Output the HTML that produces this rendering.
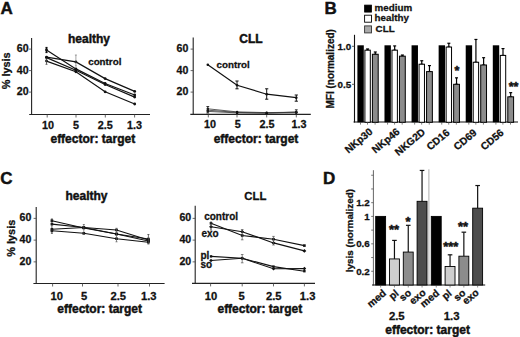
<!DOCTYPE html>
<html><head><meta charset="utf-8"><title>figure</title>
<style>
html,body{margin:0;padding:0;background:#fff;}
body{width:520px;height:337px;overflow:hidden;}
svg{display:block;}
svg text{font-family:"Liberation Sans",sans-serif;fill:#111;stroke:#111;}
</style></head>
<body>
<svg width="520" height="337" viewBox="0 0 520 337">
<rect x="0" y="0" width="520" height="337" fill="#fff"/>
<text x="0.60" y="13.70" font-size="17" text-anchor="start" font-weight="bold" stroke-width="0.45" >A</text>
<text x="324.60" y="13.70" font-size="17" text-anchor="start" font-weight="bold" stroke-width="0.45" >B</text>
<text x="0.30" y="183.70" font-size="17" text-anchor="start" font-weight="bold" stroke-width="0.45" >C</text>
<text x="323.00" y="183.70" font-size="17" text-anchor="start" font-weight="bold" stroke-width="0.45" >D</text>
<line x1="31.60" y1="38.00" x2="31.60" y2="115.00" stroke="#222" stroke-width="1.1"/>
<line x1="29.20" y1="114.50" x2="150.00" y2="114.50" stroke="#222" stroke-width="1.1"/>
<line x1="29.00" y1="49.10" x2="31.60" y2="49.10" stroke="#444" stroke-width="0.8"/>
<text x="28.60" y="52.00" font-size="10.6" text-anchor="end" font-weight="bold" stroke-width="0.28" >60</text>
<line x1="29.00" y1="70.60" x2="31.60" y2="70.60" stroke="#444" stroke-width="0.8"/>
<text x="28.60" y="73.50" font-size="10.6" text-anchor="end" font-weight="bold" stroke-width="0.28" >40</text>
<line x1="29.00" y1="92.10" x2="31.60" y2="92.10" stroke="#444" stroke-width="0.8"/>
<text x="28.60" y="95.00" font-size="10.6" text-anchor="end" font-weight="bold" stroke-width="0.28" >20</text>
<line x1="47.20" y1="114.50" x2="47.20" y2="117.50" stroke="#444" stroke-width="0.8"/>
<text x="47.90" y="128.60" font-size="10.8" text-anchor="middle" font-weight="bold" stroke-width="0.28" >10</text>
<line x1="76.00" y1="114.50" x2="76.00" y2="117.50" stroke="#444" stroke-width="0.8"/>
<text x="76.00" y="128.60" font-size="10.8" text-anchor="middle" font-weight="bold" stroke-width="0.28" >5</text>
<line x1="105.30" y1="114.50" x2="105.30" y2="117.50" stroke="#444" stroke-width="0.8"/>
<text x="105.30" y="128.60" font-size="10.8" text-anchor="middle" font-weight="bold" stroke-width="0.28" >2.5</text>
<line x1="134.60" y1="114.50" x2="134.60" y2="117.50" stroke="#444" stroke-width="0.8"/>
<text x="134.60" y="128.60" font-size="10.8" text-anchor="middle" font-weight="bold" stroke-width="0.28" >1.3</text>
<text x="92.80" y="143.00" font-size="12" text-anchor="middle" font-weight="bold" stroke-width="0.45" >effector: target</text>
<text x="89.00" y="43.20" font-size="12" text-anchor="middle" font-weight="bold" stroke-width="0.45" >healthy</text>
<text x="104.80" y="65.20" font-size="9.8" text-anchor="middle" font-weight="bold" stroke-width="0.28" >control</text>
<text transform="translate(10.40,70.80) rotate(-90)" font-size="10.9" text-anchor="middle" font-weight="bold" stroke-width="0.28">% lysis</text>
<polyline points="46.50,50.00 75.90,68.90 105.10,83.50 134.70,95.00" fill="none" stroke="#111" stroke-width="1.2"/>
<circle cx="46.50" cy="50.00" r="1.4" fill="#111"/>
<circle cx="75.90" cy="68.90" r="1.4" fill="#111"/>
<circle cx="105.10" cy="83.50" r="1.4" fill="#111"/>
<circle cx="134.70" cy="95.00" r="1.4" fill="#111"/>
<polyline points="46.50,57.20 75.90,61.90 105.10,78.60 134.70,91.40" fill="none" stroke="#111" stroke-width="1.2"/>
<circle cx="46.50" cy="57.20" r="1.4" fill="#111"/>
<circle cx="75.90" cy="61.90" r="1.4" fill="#111"/>
<circle cx="105.10" cy="78.60" r="1.4" fill="#111"/>
<circle cx="134.70" cy="91.40" r="1.4" fill="#111"/>
<polyline points="46.50,57.60 75.90,70.30 105.10,84.50 134.70,97.10" fill="none" stroke="#111" stroke-width="1.2"/>
<circle cx="46.50" cy="57.60" r="1.4" fill="#111"/>
<circle cx="75.90" cy="70.30" r="1.4" fill="#111"/>
<circle cx="105.10" cy="84.50" r="1.4" fill="#111"/>
<circle cx="134.70" cy="97.10" r="1.4" fill="#111"/>
<polyline points="46.50,61.10 75.90,71.80 105.10,91.80 134.70,104.00" fill="none" stroke="#111" stroke-width="1.2"/>
<circle cx="46.50" cy="61.10" r="1.4" fill="#111"/>
<circle cx="75.90" cy="71.80" r="1.4" fill="#111"/>
<circle cx="105.10" cy="91.80" r="1.4" fill="#111"/>
<circle cx="134.70" cy="104.00" r="1.4" fill="#111"/>
<line x1="46.50" y1="47.60" x2="46.50" y2="52.40" stroke="#111" stroke-width="1.4"/>
<line x1="45.50" y1="47.60" x2="47.50" y2="47.60" stroke="#111" stroke-width="1.4"/>
<line x1="45.50" y1="52.40" x2="47.50" y2="52.40" stroke="#111" stroke-width="1.4"/>
<line x1="46.50" y1="59.00" x2="46.50" y2="64.30" stroke="#444" stroke-width="0.8"/>
<line x1="45.50" y1="59.00" x2="47.50" y2="59.00" stroke="#444" stroke-width="0.8"/>
<line x1="45.50" y1="64.30" x2="47.50" y2="64.30" stroke="#444" stroke-width="0.8"/>
<line x1="75.90" y1="55.00" x2="75.90" y2="66.00" stroke="#666" stroke-width="0.6"/>
<line x1="74.90" y1="55.00" x2="76.90" y2="55.00" stroke="#666" stroke-width="0.6"/>
<line x1="74.90" y1="66.00" x2="76.90" y2="66.00" stroke="#666" stroke-width="0.6"/>
<line x1="193.20" y1="37.50" x2="193.20" y2="114.90" stroke="#222" stroke-width="1.1"/>
<line x1="190.30" y1="114.40" x2="310.80" y2="114.40" stroke="#222" stroke-width="1.1"/>
<line x1="190.60" y1="49.10" x2="193.20" y2="49.10" stroke="#444" stroke-width="0.8"/>
<text x="188.30" y="52.00" font-size="10.6" text-anchor="end" font-weight="bold" stroke-width="0.28" >60</text>
<line x1="190.60" y1="70.60" x2="193.20" y2="70.60" stroke="#444" stroke-width="0.8"/>
<text x="188.30" y="73.50" font-size="10.6" text-anchor="end" font-weight="bold" stroke-width="0.28" >40</text>
<line x1="190.60" y1="92.10" x2="193.20" y2="92.10" stroke="#444" stroke-width="0.8"/>
<text x="188.30" y="95.00" font-size="10.6" text-anchor="end" font-weight="bold" stroke-width="0.28" >20</text>
<line x1="208.30" y1="114.40" x2="208.30" y2="117.40" stroke="#444" stroke-width="0.8"/>
<text x="209.90" y="128.40" font-size="10.8" text-anchor="middle" font-weight="bold" stroke-width="0.28" >10</text>
<line x1="237.00" y1="114.40" x2="237.00" y2="117.40" stroke="#444" stroke-width="0.8"/>
<text x="237.80" y="128.40" font-size="10.8" text-anchor="middle" font-weight="bold" stroke-width="0.28" >5</text>
<line x1="266.70" y1="114.40" x2="266.70" y2="117.40" stroke="#444" stroke-width="0.8"/>
<text x="267.00" y="128.40" font-size="10.8" text-anchor="middle" font-weight="bold" stroke-width="0.28" >2.5</text>
<line x1="296.30" y1="114.40" x2="296.30" y2="117.40" stroke="#444" stroke-width="0.8"/>
<text x="299.10" y="128.40" font-size="10.8" text-anchor="middle" font-weight="bold" stroke-width="0.28" >1.3</text>
<text x="256.00" y="142.60" font-size="12" text-anchor="middle" font-weight="bold" stroke-width="0.45" >effector: target</text>
<text x="250.90" y="43.40" font-size="12" text-anchor="middle" font-weight="bold" stroke-width="0.45" >CLL</text>
<text x="216.60" y="68.30" font-size="9.8" text-anchor="start" font-weight="bold" stroke-width="0.28" >control</text>
<polyline points="207.80,64.70 237.10,85.30 266.70,94.20 296.30,97.70" fill="none" stroke="#111" stroke-width="1.2"/>
<circle cx="207.80" cy="64.70" r="1.3" fill="#111"/>
<circle cx="237.10" cy="85.30" r="1.3" fill="#111"/>
<circle cx="266.70" cy="94.20" r="1.3" fill="#111"/>
<circle cx="296.30" cy="97.70" r="1.3" fill="#111"/>
<line x1="237.00" y1="81.00" x2="237.00" y2="88.80" stroke="#111" stroke-width="1.0"/>
<line x1="235.40" y1="81.00" x2="238.60" y2="81.00" stroke="#111" stroke-width="1.0"/>
<line x1="235.40" y1="88.80" x2="238.60" y2="88.80" stroke="#111" stroke-width="1.0"/>
<line x1="266.70" y1="88.80" x2="266.70" y2="99.20" stroke="#111" stroke-width="1.0"/>
<line x1="265.10" y1="88.80" x2="268.30" y2="88.80" stroke="#111" stroke-width="1.0"/>
<line x1="265.10" y1="99.20" x2="268.30" y2="99.20" stroke="#111" stroke-width="1.0"/>
<line x1="296.30" y1="95.00" x2="296.30" y2="101.20" stroke="#111" stroke-width="1.0"/>
<line x1="294.70" y1="95.00" x2="297.90" y2="95.00" stroke="#111" stroke-width="1.0"/>
<line x1="294.70" y1="101.20" x2="297.90" y2="101.20" stroke="#111" stroke-width="1.0"/>
<polyline points="207.80,108.80 237.10,111.90 266.70,112.60 296.30,112.20" fill="none" stroke="#333" stroke-width="0.8"/>
<circle cx="207.80" cy="108.80" r="1.2" fill="#111"/>
<circle cx="237.10" cy="111.90" r="1.2" fill="#111"/>
<circle cx="266.70" cy="112.60" r="1.2" fill="#111"/>
<circle cx="296.30" cy="112.20" r="1.2" fill="#111"/>
<polyline points="207.80,110.20 237.10,112.40 266.70,113.00 296.30,112.80" fill="none" stroke="#333" stroke-width="0.8"/>
<circle cx="207.80" cy="110.20" r="1.2" fill="#111"/>
<circle cx="237.10" cy="112.40" r="1.2" fill="#111"/>
<circle cx="266.70" cy="113.00" r="1.2" fill="#111"/>
<circle cx="296.30" cy="112.80" r="1.2" fill="#111"/>
<polyline points="207.80,111.40 237.10,112.90 266.70,113.20 296.30,112.00" fill="none" stroke="#333" stroke-width="0.8"/>
<circle cx="207.80" cy="111.40" r="1.2" fill="#111"/>
<circle cx="237.10" cy="112.90" r="1.2" fill="#111"/>
<circle cx="266.70" cy="113.20" r="1.2" fill="#111"/>
<circle cx="296.30" cy="112.00" r="1.2" fill="#111"/>
<line x1="207.80" y1="106.50" x2="207.80" y2="113.00" stroke="#222" stroke-width="0.9"/>
<line x1="206.40" y1="106.50" x2="209.20" y2="106.50" stroke="#222" stroke-width="0.9"/>
<line x1="206.40" y1="113.00" x2="209.20" y2="113.00" stroke="#222" stroke-width="0.9"/>
<line x1="296.30" y1="109.80" x2="296.30" y2="114.50" stroke="#222" stroke-width="0.9"/>
<line x1="294.90" y1="109.80" x2="297.70" y2="109.80" stroke="#222" stroke-width="0.9"/>
<line x1="294.90" y1="114.50" x2="297.70" y2="114.50" stroke="#222" stroke-width="0.9"/>
<line x1="36.20" y1="207.00" x2="36.20" y2="284.00" stroke="#222" stroke-width="1.1"/>
<line x1="33.40" y1="283.50" x2="164.60" y2="283.50" stroke="#222" stroke-width="1.1"/>
<line x1="33.60" y1="218.38" x2="36.20" y2="218.38" stroke="#444" stroke-width="0.8"/>
<text x="31.40" y="221.28" font-size="10.6" text-anchor="end" font-weight="bold" stroke-width="0.28" >60</text>
<line x1="33.60" y1="240.12" x2="36.20" y2="240.12" stroke="#444" stroke-width="0.8"/>
<text x="31.40" y="243.02" font-size="10.6" text-anchor="end" font-weight="bold" stroke-width="0.28" >40</text>
<line x1="33.60" y1="261.86" x2="36.20" y2="261.86" stroke="#444" stroke-width="0.8"/>
<text x="31.40" y="264.76" font-size="10.6" text-anchor="end" font-weight="bold" stroke-width="0.28" >20</text>
<line x1="52.60" y1="283.50" x2="52.60" y2="286.50" stroke="#444" stroke-width="0.8"/>
<text x="56.80" y="299.80" font-size="11.2" text-anchor="middle" font-weight="bold" stroke-width="0.28" >10</text>
<line x1="82.50" y1="283.50" x2="82.50" y2="286.50" stroke="#444" stroke-width="0.8"/>
<text x="84.00" y="299.80" font-size="11.2" text-anchor="middle" font-weight="bold" stroke-width="0.28" >5</text>
<line x1="118.00" y1="283.50" x2="118.00" y2="286.50" stroke="#444" stroke-width="0.8"/>
<text x="118.30" y="299.80" font-size="11.2" text-anchor="middle" font-weight="bold" stroke-width="0.28" >2.5</text>
<line x1="149.50" y1="283.50" x2="149.50" y2="286.50" stroke="#444" stroke-width="0.8"/>
<text x="148.70" y="299.80" font-size="11.2" text-anchor="middle" font-weight="bold" stroke-width="0.28" >1.3</text>
<text x="99.70" y="312.80" font-size="12" text-anchor="middle" font-weight="bold" stroke-width="0.45" >effector: target</text>
<text x="86.50" y="199.90" font-size="12" text-anchor="middle" font-weight="bold" stroke-width="0.45" >healthy</text>
<text transform="translate(14.60,238.20) rotate(-90)" font-size="10.9" text-anchor="middle" font-weight="bold" stroke-width="0.28">% lysis</text>
<polyline points="51.90,220.70 83.80,228.00 116.50,234.00 148.40,239.00" fill="none" stroke="#111" stroke-width="1.1"/>
<rect x="50.60" y="219.40" width="2.6" height="2.6" fill="#111"/>
<rect x="82.50" y="226.70" width="2.6" height="2.6" fill="#111"/>
<rect x="115.20" y="232.70" width="2.6" height="2.6" fill="#111"/>
<rect x="147.10" y="237.70" width="2.6" height="2.6" fill="#111"/>
<polyline points="51.90,224.10 83.80,227.50 116.50,230.00 148.40,240.00" fill="none" stroke="#111" stroke-width="1.1"/>
<rect x="50.60" y="222.80" width="2.6" height="2.6" fill="#111"/>
<rect x="82.50" y="226.20" width="2.6" height="2.6" fill="#111"/>
<rect x="115.20" y="228.70" width="2.6" height="2.6" fill="#111"/>
<rect x="147.10" y="238.70" width="2.6" height="2.6" fill="#111"/>
<polyline points="51.90,229.30 83.80,227.50 116.50,234.00 148.40,241.00" fill="none" stroke="#111" stroke-width="1.1"/>
<rect x="50.60" y="228.00" width="2.6" height="2.6" fill="#111"/>
<rect x="82.50" y="226.20" width="2.6" height="2.6" fill="#111"/>
<rect x="115.20" y="232.70" width="2.6" height="2.6" fill="#111"/>
<rect x="147.10" y="239.70" width="2.6" height="2.6" fill="#111"/>
<polyline points="51.90,230.80 83.80,233.30 116.50,238.70 148.40,242.20" fill="none" stroke="#111" stroke-width="1.1"/>
<rect x="50.60" y="229.50" width="2.6" height="2.6" fill="#111"/>
<rect x="82.50" y="232.00" width="2.6" height="2.6" fill="#111"/>
<rect x="115.20" y="237.40" width="2.6" height="2.6" fill="#111"/>
<rect x="147.10" y="240.90" width="2.6" height="2.6" fill="#111"/>
<line x1="51.90" y1="219.00" x2="51.90" y2="233.30" stroke="#333" stroke-width="0.8"/>
<line x1="50.90" y1="219.00" x2="52.90" y2="219.00" stroke="#333" stroke-width="0.8"/>
<line x1="50.90" y1="233.30" x2="52.90" y2="233.30" stroke="#333" stroke-width="0.8"/>
<line x1="83.80" y1="224.50" x2="83.80" y2="234.50" stroke="#555" stroke-width="0.7"/>
<line x1="82.80" y1="224.50" x2="84.80" y2="224.50" stroke="#555" stroke-width="0.7"/>
<line x1="82.80" y1="234.50" x2="84.80" y2="234.50" stroke="#555" stroke-width="0.7"/>
<line x1="116.50" y1="228.30" x2="116.50" y2="241.80" stroke="#555" stroke-width="0.7"/>
<line x1="115.50" y1="228.30" x2="117.50" y2="228.30" stroke="#555" stroke-width="0.7"/>
<line x1="115.50" y1="241.80" x2="117.50" y2="241.80" stroke="#555" stroke-width="0.7"/>
<line x1="148.40" y1="234.50" x2="148.40" y2="244.00" stroke="#444" stroke-width="0.8"/>
<line x1="147.40" y1="234.50" x2="149.40" y2="234.50" stroke="#444" stroke-width="0.8"/>
<line x1="147.40" y1="244.00" x2="149.40" y2="244.00" stroke="#444" stroke-width="0.8"/>
<line x1="195.20" y1="205.70" x2="195.20" y2="283.90" stroke="#222" stroke-width="1.1"/>
<line x1="192.00" y1="283.40" x2="315.00" y2="283.40" stroke="#222" stroke-width="1.1"/>
<line x1="192.60" y1="218.38" x2="195.20" y2="218.38" stroke="#444" stroke-width="0.8"/>
<text x="191.20" y="221.28" font-size="10.6" text-anchor="end" font-weight="bold" stroke-width="0.28" >60</text>
<line x1="192.60" y1="240.12" x2="195.20" y2="240.12" stroke="#444" stroke-width="0.8"/>
<text x="191.20" y="243.02" font-size="10.6" text-anchor="end" font-weight="bold" stroke-width="0.28" >40</text>
<line x1="192.60" y1="261.86" x2="195.20" y2="261.86" stroke="#444" stroke-width="0.8"/>
<text x="191.20" y="264.76" font-size="10.6" text-anchor="end" font-weight="bold" stroke-width="0.28" >20</text>
<line x1="210.60" y1="283.40" x2="210.60" y2="286.40" stroke="#444" stroke-width="0.8"/>
<text x="210.90" y="299.80" font-size="11.2" text-anchor="middle" font-weight="bold" stroke-width="0.28" >10</text>
<line x1="242.20" y1="283.40" x2="242.20" y2="286.40" stroke="#444" stroke-width="0.8"/>
<text x="241.60" y="299.80" font-size="11.2" text-anchor="middle" font-weight="bold" stroke-width="0.28" >5</text>
<line x1="273.50" y1="283.40" x2="273.50" y2="286.40" stroke="#444" stroke-width="0.8"/>
<text x="273.70" y="299.80" font-size="11.2" text-anchor="middle" font-weight="bold" stroke-width="0.28" >2.5</text>
<line x1="304.40" y1="283.40" x2="304.40" y2="286.40" stroke="#444" stroke-width="0.8"/>
<text x="307.60" y="299.80" font-size="11.2" text-anchor="middle" font-weight="bold" stroke-width="0.28" >1.3</text>
<text x="259.80" y="313.00" font-size="12" text-anchor="middle" font-weight="bold" stroke-width="0.45" >effector: target</text>
<text x="255.30" y="199.90" font-size="11.4" text-anchor="middle" font-weight="bold" stroke-width="0.28" >CLL</text>
<text x="204.20" y="220.00" font-size="10.0" text-anchor="start" font-weight="bold" stroke-width="0.28" >control</text>
<text x="201.50" y="236.70" font-size="10.0" text-anchor="start" font-weight="bold" stroke-width="0.28" >exo</text>
<text x="200.50" y="259.30" font-size="10.0" text-anchor="start" font-weight="bold" stroke-width="0.28" >pl</text>
<text x="200.50" y="268.30" font-size="10.0" text-anchor="start" font-weight="bold" stroke-width="0.28" >so</text>
<polyline points="211.00,223.30 242.20,235.50 273.50,239.20 304.40,245.60" fill="none" stroke="#111" stroke-width="1.1"/>
<rect x="209.70" y="222.00" width="2.6" height="2.6" fill="#111"/>
<rect x="240.90" y="234.20" width="2.6" height="2.6" fill="#111"/>
<rect x="272.20" y="237.90" width="2.6" height="2.6" fill="#111"/>
<rect x="303.10" y="244.30" width="2.6" height="2.6" fill="#111"/>
<polyline points="211.00,226.80 242.20,231.70 273.50,242.90 304.40,250.90" fill="none" stroke="#111" stroke-width="1.1"/>
<polygon points="211.00,224.90 212.90,226.80 211.00,228.70 209.10,226.80" fill="#111"/>
<polygon points="242.20,229.80 244.10,231.70 242.20,233.60 240.30,231.70" fill="#111"/>
<polygon points="273.50,241.00 275.40,242.90 273.50,244.80 271.60,242.90" fill="#111"/>
<polygon points="304.40,249.00 306.30,250.90 304.40,252.80 302.50,250.90" fill="#111"/>
<polyline points="211.00,256.40 242.20,258.30 273.50,266.60 304.40,271.20" fill="none" stroke="#111" stroke-width="1.1"/>
<rect x="209.80" y="255.20" width="2.4" height="2.4" fill="#111"/>
<rect x="241.00" y="257.10" width="2.4" height="2.4" fill="#111"/>
<rect x="272.30" y="265.40" width="2.4" height="2.4" fill="#111"/>
<rect x="303.20" y="270.00" width="2.4" height="2.4" fill="#111"/>
<polyline points="211.00,260.50 242.20,258.30 273.50,268.80 304.40,268.60" fill="none" stroke="#111" stroke-width="1.1"/>
<polygon points="211.00,258.70 212.80,260.50 211.00,262.30 209.20,260.50" fill="#111"/>
<polygon points="242.20,256.50 244.00,258.30 242.20,260.10 240.40,258.30" fill="#111"/>
<polygon points="273.50,267.00 275.30,268.80 273.50,270.60 271.70,268.80" fill="#111"/>
<polygon points="304.40,266.80 306.20,268.60 304.40,270.40 302.60,268.60" fill="#111"/>
<line x1="211.00" y1="222.00" x2="211.00" y2="230.00" stroke="#444" stroke-width="0.7"/>
<line x1="210.00" y1="222.00" x2="212.00" y2="222.00" stroke="#444" stroke-width="0.7"/>
<line x1="210.00" y1="230.00" x2="212.00" y2="230.00" stroke="#444" stroke-width="0.7"/>
<line x1="242.20" y1="229.50" x2="242.20" y2="239.80" stroke="#555" stroke-width="0.7"/>
<line x1="240.90" y1="229.50" x2="243.50" y2="229.50" stroke="#555" stroke-width="0.7"/>
<line x1="240.90" y1="239.80" x2="243.50" y2="239.80" stroke="#555" stroke-width="0.7"/>
<line x1="273.50" y1="236.40" x2="273.50" y2="245.00" stroke="#555" stroke-width="0.7"/>
<line x1="272.20" y1="236.40" x2="274.80" y2="236.40" stroke="#555" stroke-width="0.7"/>
<line x1="272.20" y1="245.00" x2="274.80" y2="245.00" stroke="#555" stroke-width="0.7"/>
<line x1="242.20" y1="254.50" x2="242.20" y2="262.80" stroke="#555" stroke-width="0.7"/>
<line x1="240.90" y1="254.50" x2="243.50" y2="254.50" stroke="#555" stroke-width="0.7"/>
<line x1="240.90" y1="262.80" x2="243.50" y2="262.80" stroke="#555" stroke-width="0.7"/>
<line x1="354.50" y1="34.80" x2="354.50" y2="122.50" stroke="#111" stroke-width="1.1"/>
<line x1="353.50" y1="122.00" x2="518.00" y2="122.00" stroke="#111" stroke-width="1.1"/>
<line x1="352.00" y1="46.30" x2="354.50" y2="46.30" stroke="#333" stroke-width="0.8"/>
<text x="351.20" y="49.70" font-size="9.8" text-anchor="end" font-weight="bold" stroke-width="0.28" >1.0</text>
<line x1="352.00" y1="84.30" x2="354.50" y2="84.30" stroke="#333" stroke-width="0.8"/>
<text x="351.20" y="87.70" font-size="9.8" text-anchor="end" font-weight="bold" stroke-width="0.28" >0.5</text>
<text transform="translate(334.40,68.80) rotate(-90)" font-size="10.0" text-anchor="middle" font-weight="bold" stroke-width="0.28">MFI (normalized)</text>
<rect x="364.60" y="5.10" width="6.90" height="7.00" fill="#000" stroke="#000" stroke-width="0.8"/>
<rect x="364.60" y="15.20" width="6.90" height="7.00" fill="#fff" stroke="#000" stroke-width="0.9"/>
<rect x="364.60" y="25.90" width="6.90" height="7.00" fill="#aaa" stroke="#333" stroke-width="0.9"/>
<text x="374.60" y="10.90" font-size="9.8" text-anchor="start" font-weight="bold" stroke-width="0.28" >medium</text>
<text x="374.60" y="21.40" font-size="9.8" text-anchor="start" font-weight="bold" stroke-width="0.28" >healthy</text>
<text x="375.60" y="32.40" font-size="9.8" text-anchor="start" font-weight="bold" stroke-width="0.28" >CLL</text>
<rect x="357.40" y="45.30" width="6.40" height="77.00" fill="#000" stroke="none" stroke-width="0"/>
<line x1="367.60" y1="48.96" x2="367.60" y2="50.18" stroke="#000" stroke-width="1.2"/>
<line x1="366.10" y1="48.96" x2="369.10" y2="48.96" stroke="#000" stroke-width="1.2"/>
<line x1="366.10" y1="50.18" x2="369.10" y2="50.18" stroke="#000" stroke-width="1.2"/>
<rect x="364.90" y="50.18" width="5.40" height="72.12" fill="#fff" stroke="#000" stroke-width="1.0"/>
<line x1="375.30" y1="52.00" x2="375.30" y2="54.28" stroke="#000" stroke-width="1.2"/>
<line x1="373.80" y1="52.00" x2="376.80" y2="52.00" stroke="#000" stroke-width="1.2"/>
<line x1="373.80" y1="54.28" x2="376.80" y2="54.28" stroke="#000" stroke-width="1.2"/>
<rect x="372.40" y="54.28" width="5.80" height="68.02" fill="#8c8c8c" stroke="#000" stroke-width="1.0"/>
<line x1="360.50" y1="122.00" x2="360.50" y2="124.60" stroke="#444" stroke-width="0.7"/>
<line x1="367.50" y1="122.00" x2="367.50" y2="124.60" stroke="#444" stroke-width="0.7"/>
<line x1="375.10" y1="122.00" x2="375.10" y2="124.60" stroke="#444" stroke-width="0.7"/>
<text transform="translate(373.40,132.90) rotate(-40)" font-size="10.3" text-anchor="end" font-weight="bold" stroke-width="0.28">NKp30</text>
<rect x="384.48" y="45.30" width="6.40" height="77.00" fill="#000" stroke="none" stroke-width="0"/>
<line x1="394.68" y1="45.92" x2="394.68" y2="50.18" stroke="#000" stroke-width="1.2"/>
<line x1="393.18" y1="45.92" x2="396.18" y2="45.92" stroke="#000" stroke-width="1.2"/>
<line x1="393.18" y1="50.18" x2="396.18" y2="50.18" stroke="#000" stroke-width="1.2"/>
<rect x="391.98" y="50.18" width="5.40" height="72.12" fill="#fff" stroke="#000" stroke-width="1.0"/>
<line x1="402.38" y1="55.04" x2="402.38" y2="56.18" stroke="#000" stroke-width="1.2"/>
<line x1="400.88" y1="55.04" x2="403.88" y2="55.04" stroke="#000" stroke-width="1.2"/>
<line x1="400.88" y1="56.18" x2="403.88" y2="56.18" stroke="#000" stroke-width="1.2"/>
<rect x="399.48" y="56.18" width="5.80" height="66.12" fill="#8c8c8c" stroke="#000" stroke-width="1.0"/>
<line x1="387.58" y1="122.00" x2="387.58" y2="124.60" stroke="#444" stroke-width="0.7"/>
<line x1="394.58" y1="122.00" x2="394.58" y2="124.60" stroke="#444" stroke-width="0.7"/>
<line x1="402.18" y1="122.00" x2="402.18" y2="124.60" stroke="#444" stroke-width="0.7"/>
<text transform="translate(400.48,132.90) rotate(-40)" font-size="10.3" text-anchor="end" font-weight="bold" stroke-width="0.28">NKp46</text>
<rect x="411.56" y="45.30" width="6.40" height="77.00" fill="#000" stroke="none" stroke-width="0"/>
<line x1="421.76" y1="60.74" x2="421.76" y2="64.24" stroke="#000" stroke-width="1.2"/>
<line x1="420.26" y1="60.74" x2="423.26" y2="60.74" stroke="#000" stroke-width="1.2"/>
<line x1="420.26" y1="64.24" x2="423.26" y2="64.24" stroke="#000" stroke-width="1.2"/>
<rect x="419.06" y="64.24" width="5.40" height="58.06" fill="#fff" stroke="#000" stroke-width="1.0"/>
<line x1="429.46" y1="65.60" x2="429.46" y2="71.61" stroke="#000" stroke-width="1.2"/>
<line x1="427.96" y1="65.60" x2="430.96" y2="65.60" stroke="#000" stroke-width="1.2"/>
<line x1="427.96" y1="71.61" x2="430.96" y2="71.61" stroke="#000" stroke-width="1.2"/>
<rect x="426.56" y="71.61" width="5.80" height="50.69" fill="#8c8c8c" stroke="#000" stroke-width="1.0"/>
<line x1="414.66" y1="122.00" x2="414.66" y2="124.60" stroke="#444" stroke-width="0.7"/>
<line x1="421.66" y1="122.00" x2="421.66" y2="124.60" stroke="#444" stroke-width="0.7"/>
<line x1="429.26" y1="122.00" x2="429.26" y2="124.60" stroke="#444" stroke-width="0.7"/>
<text transform="translate(426.06,133.10) rotate(-40)" font-size="10.3" text-anchor="end" font-weight="bold" stroke-width="0.28">NKG2D</text>
<rect x="438.64" y="45.30" width="6.40" height="77.00" fill="#000" stroke="none" stroke-width="0"/>
<line x1="448.84" y1="43.26" x2="448.84" y2="47.06" stroke="#000" stroke-width="1.2"/>
<line x1="447.34" y1="43.26" x2="450.34" y2="43.26" stroke="#000" stroke-width="1.2"/>
<line x1="447.34" y1="47.06" x2="450.34" y2="47.06" stroke="#000" stroke-width="1.2"/>
<rect x="446.14" y="47.06" width="5.40" height="75.24" fill="#fff" stroke="#000" stroke-width="1.0"/>
<line x1="456.54" y1="77.84" x2="456.54" y2="84.30" stroke="#000" stroke-width="1.2"/>
<line x1="455.04" y1="77.84" x2="458.04" y2="77.84" stroke="#000" stroke-width="1.2"/>
<line x1="455.04" y1="84.30" x2="458.04" y2="84.30" stroke="#000" stroke-width="1.2"/>
<rect x="453.64" y="84.30" width="5.80" height="38.00" fill="#8c8c8c" stroke="#000" stroke-width="1.0"/>
<line x1="441.74" y1="122.00" x2="441.74" y2="124.60" stroke="#444" stroke-width="0.7"/>
<line x1="448.74" y1="122.00" x2="448.74" y2="124.60" stroke="#444" stroke-width="0.7"/>
<line x1="456.34" y1="122.00" x2="456.34" y2="124.60" stroke="#444" stroke-width="0.7"/>
<text transform="translate(450.34,133.80) rotate(-40)" font-size="10.3" text-anchor="end" font-weight="bold" stroke-width="0.28">CD16</text>
<rect x="465.72" y="45.30" width="6.40" height="77.00" fill="#000" stroke="none" stroke-width="0"/>
<line x1="475.92" y1="39.46" x2="475.92" y2="62.26" stroke="#000" stroke-width="1.2"/>
<line x1="474.42" y1="39.46" x2="477.42" y2="39.46" stroke="#000" stroke-width="1.2"/>
<line x1="474.42" y1="62.26" x2="477.42" y2="62.26" stroke="#000" stroke-width="1.2"/>
<rect x="473.22" y="62.26" width="5.40" height="60.04" fill="#fff" stroke="#000" stroke-width="1.0"/>
<line x1="483.62" y1="57.70" x2="483.62" y2="65.00" stroke="#000" stroke-width="1.2"/>
<line x1="482.12" y1="57.70" x2="485.12" y2="57.70" stroke="#000" stroke-width="1.2"/>
<line x1="482.12" y1="65.00" x2="485.12" y2="65.00" stroke="#000" stroke-width="1.2"/>
<rect x="480.72" y="65.00" width="5.80" height="57.30" fill="#8c8c8c" stroke="#000" stroke-width="1.0"/>
<line x1="468.82" y1="122.00" x2="468.82" y2="124.60" stroke="#444" stroke-width="0.7"/>
<line x1="475.82" y1="122.00" x2="475.82" y2="124.60" stroke="#444" stroke-width="0.7"/>
<line x1="483.42" y1="122.00" x2="483.42" y2="124.60" stroke="#444" stroke-width="0.7"/>
<text transform="translate(477.42,133.80) rotate(-40)" font-size="10.3" text-anchor="end" font-weight="bold" stroke-width="0.28">CD69</text>
<rect x="492.80" y="45.30" width="6.40" height="77.00" fill="#000" stroke="none" stroke-width="0"/>
<line x1="503.00" y1="48.58" x2="503.00" y2="55.42" stroke="#000" stroke-width="1.2"/>
<line x1="501.50" y1="48.58" x2="504.50" y2="48.58" stroke="#000" stroke-width="1.2"/>
<line x1="501.50" y1="55.42" x2="504.50" y2="55.42" stroke="#000" stroke-width="1.2"/>
<rect x="500.30" y="55.42" width="5.40" height="66.88" fill="#fff" stroke="#000" stroke-width="1.0"/>
<line x1="510.70" y1="92.66" x2="510.70" y2="96.84" stroke="#000" stroke-width="1.2"/>
<line x1="509.20" y1="92.66" x2="512.20" y2="92.66" stroke="#000" stroke-width="1.2"/>
<line x1="509.20" y1="96.84" x2="512.20" y2="96.84" stroke="#000" stroke-width="1.2"/>
<rect x="507.80" y="96.84" width="5.80" height="25.46" fill="#8c8c8c" stroke="#000" stroke-width="1.0"/>
<line x1="495.90" y1="122.00" x2="495.90" y2="124.60" stroke="#444" stroke-width="0.7"/>
<line x1="502.90" y1="122.00" x2="502.90" y2="124.60" stroke="#444" stroke-width="0.7"/>
<line x1="510.50" y1="122.00" x2="510.50" y2="124.60" stroke="#444" stroke-width="0.7"/>
<text transform="translate(504.50,133.80) rotate(-40)" font-size="10.3" text-anchor="end" font-weight="bold" stroke-width="0.28">CD56</text>
<text x="457.00" y="75.00" font-size="12.5" text-anchor="middle" font-weight="bold" stroke-width="0.45" >*</text>
<text x="513.60" y="90.60" font-size="12.5" text-anchor="middle" font-weight="bold" stroke-width="0.45" >**</text>
<line x1="373.40" y1="170.20" x2="373.40" y2="285.50" stroke="#555" stroke-width="0.9"/>
<line x1="372.00" y1="285.00" x2="485.20" y2="285.00" stroke="#111" stroke-width="1.1"/>
<line x1="371.20" y1="271.28" x2="373.40" y2="271.28" stroke="#555" stroke-width="0.8"/>
<line x1="371.20" y1="257.56" x2="373.40" y2="257.56" stroke="#555" stroke-width="0.8"/>
<line x1="371.20" y1="243.84" x2="373.40" y2="243.84" stroke="#555" stroke-width="0.8"/>
<line x1="371.20" y1="230.12" x2="373.40" y2="230.12" stroke="#555" stroke-width="0.8"/>
<line x1="371.20" y1="216.40" x2="373.40" y2="216.40" stroke="#555" stroke-width="0.8"/>
<line x1="371.20" y1="202.68" x2="373.40" y2="202.68" stroke="#555" stroke-width="0.8"/>
<line x1="371.20" y1="188.96" x2="373.40" y2="188.96" stroke="#555" stroke-width="0.8"/>
<line x1="371.20" y1="175.24" x2="373.40" y2="175.24" stroke="#555" stroke-width="0.8"/>
<text x="369.80" y="274.78" font-size="9.8" text-anchor="end" font-weight="bold" stroke-width="0.28" >0.2</text>
<text x="369.80" y="247.34" font-size="9.8" text-anchor="end" font-weight="bold" stroke-width="0.28" >0.6</text>
<text x="369.80" y="219.90" font-size="9.8" text-anchor="end" font-weight="bold" stroke-width="0.28" >1</text>
<text x="369.80" y="206.18" font-size="9.8" text-anchor="end" font-weight="bold" stroke-width="0.28" >1.2</text>
<text transform="translate(352.60,230.60) rotate(-90)" font-size="9.9" text-anchor="middle" font-weight="bold" stroke-width="0.28">lysis (normalized)</text>
<line x1="428.90" y1="169.30" x2="428.90" y2="285.00" stroke="#999" stroke-width="0.8"/>
<rect x="375.70" y="216.40" width="9.90" height="68.60" fill="#000" stroke="#000" stroke-width="0.9"/>
<line x1="380.65" y1="285.00" x2="380.65" y2="287.50" stroke="#444" stroke-width="0.6"/>
<line x1="394.45" y1="240.41" x2="394.45" y2="258.93" stroke="#111" stroke-width="1.2"/>
<line x1="392.15" y1="240.41" x2="396.75" y2="240.41" stroke="#111" stroke-width="1.2"/>
<rect x="389.50" y="258.93" width="9.90" height="26.07" fill="#cfcfcf" stroke="#000" stroke-width="0.9"/>
<line x1="394.45" y1="285.00" x2="394.45" y2="287.50" stroke="#444" stroke-width="0.6"/>
<line x1="408.25" y1="225.32" x2="408.25" y2="252.07" stroke="#111" stroke-width="1.2"/>
<line x1="405.95" y1="225.32" x2="410.55" y2="225.32" stroke="#111" stroke-width="1.2"/>
<rect x="403.30" y="252.07" width="9.90" height="32.93" fill="#8c8c8c" stroke="#000" stroke-width="0.9"/>
<line x1="408.25" y1="285.00" x2="408.25" y2="287.50" stroke="#444" stroke-width="0.6"/>
<line x1="422.05" y1="170.44" x2="422.05" y2="201.31" stroke="#111" stroke-width="1.2"/>
<line x1="419.75" y1="170.44" x2="424.35" y2="170.44" stroke="#111" stroke-width="1.2"/>
<rect x="417.10" y="201.31" width="9.90" height="83.69" fill="#4d4d4d" stroke="#000" stroke-width="0.9"/>
<line x1="422.05" y1="285.00" x2="422.05" y2="287.50" stroke="#444" stroke-width="0.6"/>
<rect x="431.30" y="216.40" width="9.90" height="68.60" fill="#000" stroke="#000" stroke-width="0.9"/>
<line x1="436.25" y1="285.00" x2="436.25" y2="287.50" stroke="#444" stroke-width="0.6"/>
<line x1="450.05" y1="254.82" x2="450.05" y2="266.48" stroke="#111" stroke-width="1.2"/>
<line x1="447.75" y1="254.82" x2="452.35" y2="254.82" stroke="#111" stroke-width="1.2"/>
<rect x="445.10" y="266.48" width="9.90" height="18.52" fill="#cfcfcf" stroke="#000" stroke-width="0.9"/>
<line x1="450.05" y1="285.00" x2="450.05" y2="287.50" stroke="#444" stroke-width="0.6"/>
<line x1="463.85" y1="232.18" x2="463.85" y2="256.19" stroke="#111" stroke-width="1.2"/>
<line x1="461.55" y1="232.18" x2="466.15" y2="232.18" stroke="#111" stroke-width="1.2"/>
<rect x="458.90" y="256.19" width="9.90" height="28.81" fill="#8c8c8c" stroke="#000" stroke-width="0.9"/>
<line x1="463.85" y1="285.00" x2="463.85" y2="287.50" stroke="#444" stroke-width="0.6"/>
<line x1="477.65" y1="185.53" x2="477.65" y2="208.17" stroke="#111" stroke-width="1.2"/>
<line x1="475.35" y1="185.53" x2="479.95" y2="185.53" stroke="#111" stroke-width="1.2"/>
<rect x="472.70" y="208.17" width="9.90" height="76.83" fill="#4d4d4d" stroke="#000" stroke-width="0.9"/>
<line x1="477.65" y1="285.00" x2="477.65" y2="287.50" stroke="#444" stroke-width="0.6"/>
<text transform="translate(386.95,294.30) rotate(-40)" font-size="10.3" text-anchor="end" font-weight="bold" stroke-width="0.28">med</text>
<text transform="translate(399.45,294.30) rotate(-40)" font-size="10.3" text-anchor="end" font-weight="bold" stroke-width="0.28">pl</text>
<text transform="translate(412.05,294.00) rotate(-40)" font-size="10.3" text-anchor="end" font-weight="bold" stroke-width="0.28">so</text>
<text transform="translate(426.55,293.70) rotate(-40)" font-size="10.3" text-anchor="end" font-weight="bold" stroke-width="0.28">exo</text>
<text transform="translate(440.05,294.30) rotate(-40)" font-size="10.3" text-anchor="end" font-weight="bold" stroke-width="0.28">med</text>
<text transform="translate(452.55,294.30) rotate(-40)" font-size="10.3" text-anchor="end" font-weight="bold" stroke-width="0.28">pl</text>
<text transform="translate(466.35,294.00) rotate(-40)" font-size="10.3" text-anchor="end" font-weight="bold" stroke-width="0.28">so</text>
<text transform="translate(479.65,293.70) rotate(-40)" font-size="10.3" text-anchor="end" font-weight="bold" stroke-width="0.28">exo</text>
<text x="394.00" y="233.60" font-size="13" text-anchor="middle" font-weight="bold" stroke-width="0.45" >**</text>
<text x="408.00" y="225.90" font-size="13" text-anchor="middle" font-weight="bold" stroke-width="0.45" >*</text>
<text x="450.80" y="251.00" font-size="13" text-anchor="middle" font-weight="bold" stroke-width="0.45" >***</text>
<text x="463.10" y="231.00" font-size="13" text-anchor="middle" font-weight="bold" stroke-width="0.45" >**</text>
<text x="396.80" y="320.20" font-size="11.4" text-anchor="middle" font-weight="bold" stroke-width="0.28" >2.5</text>
<text x="451.60" y="320.20" font-size="11.4" text-anchor="middle" font-weight="bold" stroke-width="0.28" >1.3</text>
<text x="427.60" y="333.80" font-size="12" text-anchor="middle" font-weight="bold" stroke-width="0.45" >effector: target</text>
</svg>
</body></html>
